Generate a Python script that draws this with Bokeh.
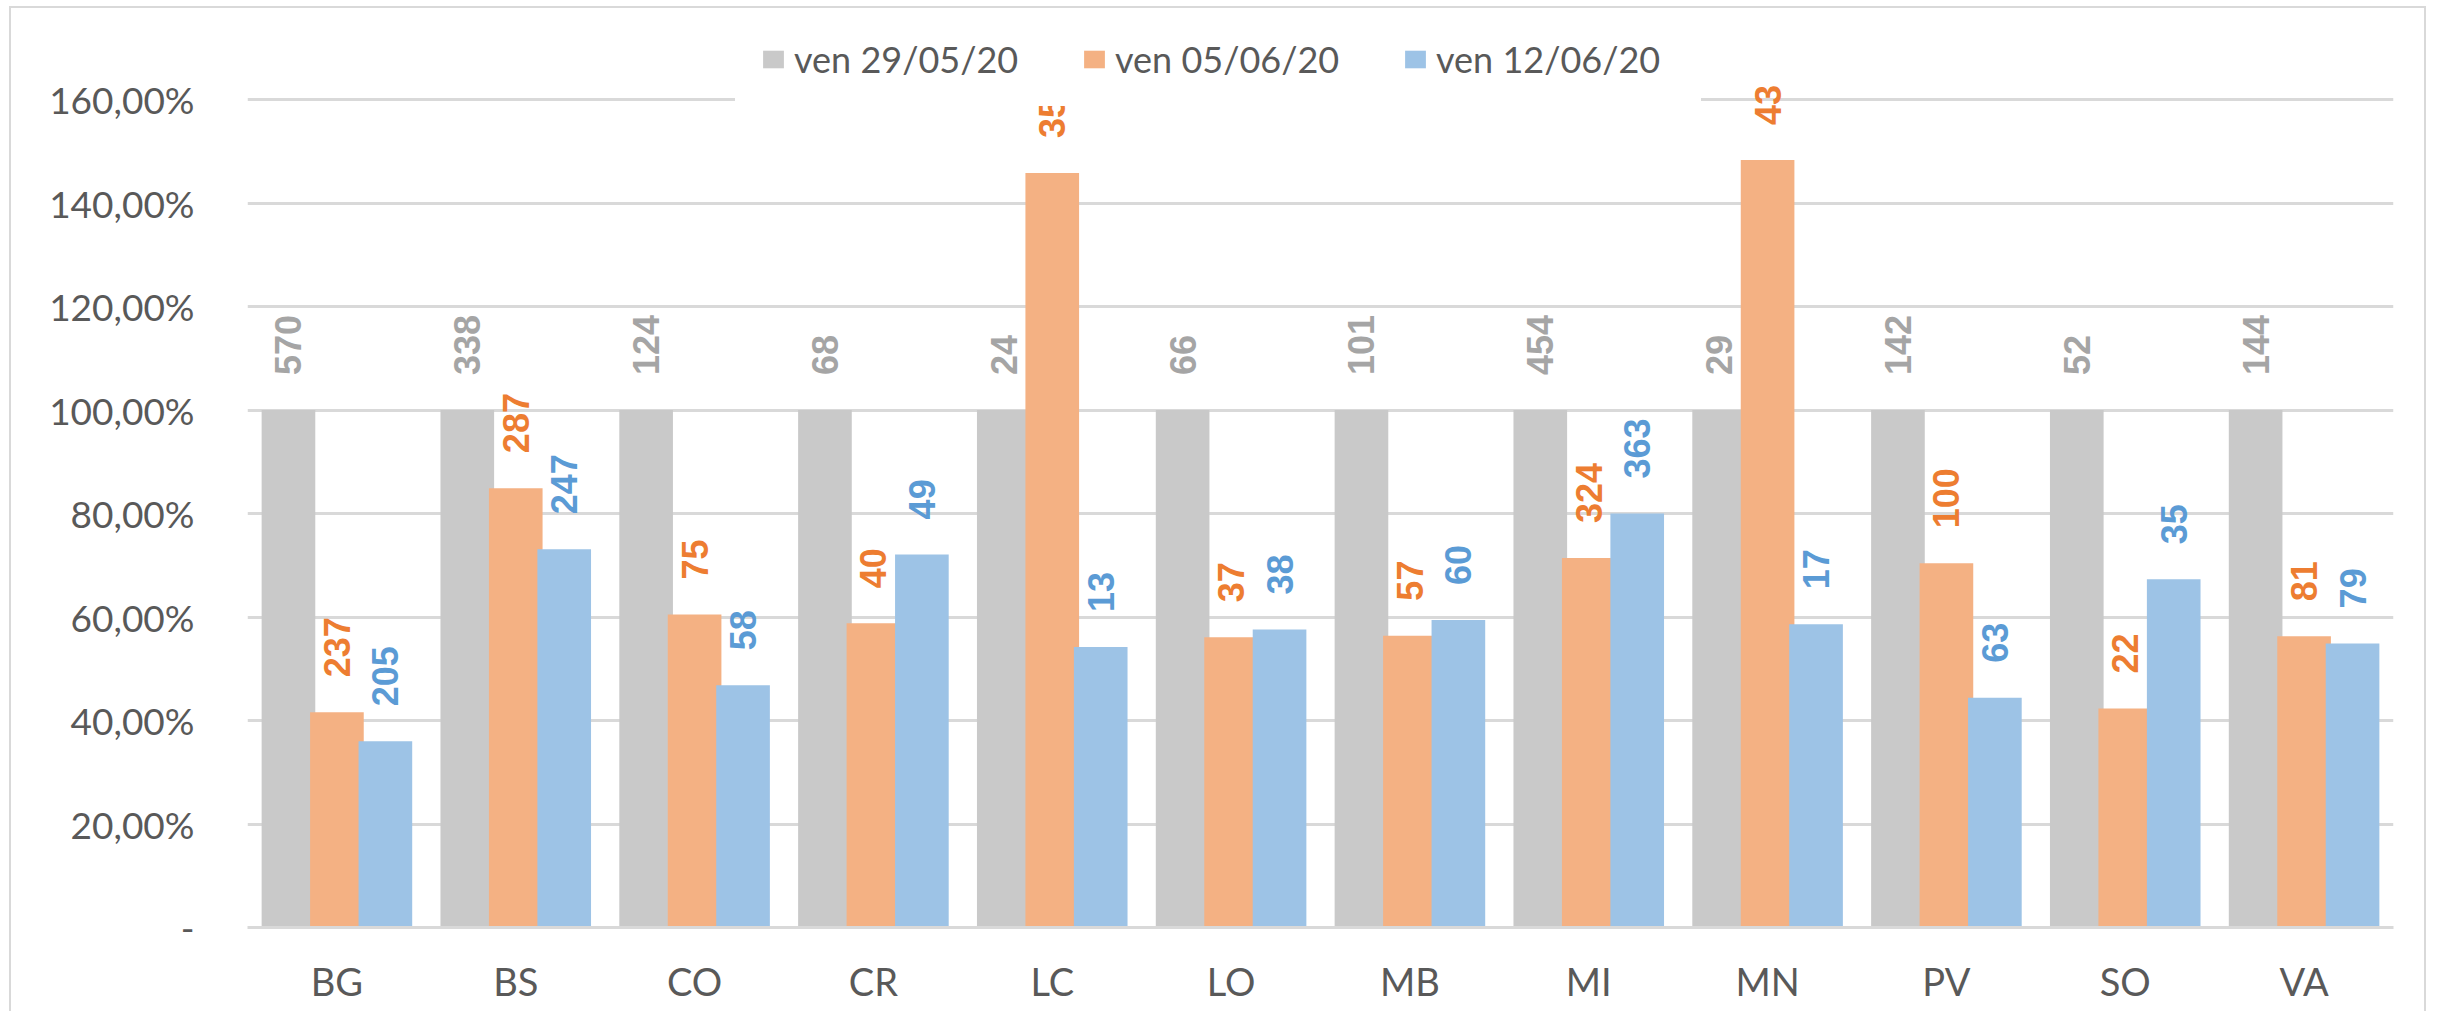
import math
from bokeh.plotting import figure
from bokeh.models import ColumnDataSource, FactorRange, FixedTicker, Spacer
from bokeh.layouts import column, row
from bokeh.transform import dodge
from bokeh.core.properties import value
from bokeh.embed import file_html
from bokeh.resources import INLINE

categories = ["BG", "BS", "CO", "CR", "LC", "LO", "MB", "MI", "MN", "PV", "SO", "VA"]
series_names = ["ven 29/05/20", "ven 05/06/20", "ven 12/06/20"]

pct_2905 = [100, 100, 100, 100, 100, 100, 100, 100, 100, 100, 100, 100]
pct_0506 = [41.6, 84.9, 60.5, 58.8, 145.8, 56.1, 56.4, 71.4, 148.3, 70.4, 42.3, 56.3]
pct_1206 = [36.0, 73.1, 46.8, 72.1, 54.2, 57.6, 59.4, 80.0, 58.6, 44.4, 67.3, 54.9]

lbl_2905 = ["570", "338", "124", "68", "24", "66", "101", "454", "29", "142", "52", "144"]
lbl_0506 = ["237", "287", "75", "40", "35", "37", "57", "324", "43", "100", "22", "81"]
lbl_1206 = ["205", "247", "58", "49", "13", "38", "60", "363", "17", "63", "35", "79"]

y_ticks = [0, 20, 40, 60, 80, 100, 120, 140, 160]
y_tick_labels = ["-", "20,00%", "40,00%", "60,00%", "80,00%", "100,00%", "120,00%", "140,00%", "160,00%"]

bar_colors = ["#c9c9c9", "#f4b183", "#9dc3e6"]
label_colors = ["#a5a5a5", "#ed7d31", "#5b9bd5"]
offsets = [-0.271, 0.0, 0.271]

source = ColumnDataSource(dict(
    cat=categories,
    s0=pct_2905, s1=pct_0506, s2=pct_1206,
    l0=lbl_2905, l1=lbl_0506, l2=lbl_1206,
))

p = figure(
    x_range=FactorRange(*categories),
    y_range=(0, 176.04),
    width=2417, height=1005,
    output_backend="svg", toolbar_location=None,
    min_border_left=238, min_border_right=33, min_border_top=10, min_border_bottom=84,
)
p.border_fill_color = None
p.outline_line_color = None
p.styles = {
    "background-color": "white",
    "box-shadow": "inset 2px 0 0 #d9d9d9, inset -2px 0 0 #d9d9d9, inset 0 2px 0 #d9d9d9",
}

for i in range(3):
    p.vbar(x=dodge("cat", offsets[i], range=p.x_range), top="s%d" % i, width=0.30,
           source=source, fill_color=bar_colors[i], line_color=None,
           legend_label=series_names[i])

for i in range(3):
    p.text(x=dodge("cat", offsets[i], range=p.x_range), y="s%d" % i, text="l%d" % i,
           source=source, angle=math.pi / 2, text_align="left", text_baseline="middle",
           y_offset=-35, text_font=value("Liberation Sans"), text_font_style="bold",
           text_font_size="36px", text_color=label_colors[i])

# axes
p.yaxis.ticker = FixedTicker(ticks=y_ticks)
p.yaxis.major_label_overrides = {t: s for t, s in zip(y_ticks, y_tick_labels)}
p.yaxis.axis_line_color = None
p.yaxis.major_tick_line_color = None
p.yaxis.minor_tick_line_color = None
p.yaxis.major_tick_out = 0
p.yaxis.major_tick_in = 0
p.yaxis.minor_tick_out = 0
p.yaxis.major_label_standoff = 53
p.yaxis.major_label_text_font = "Lato"
p.yaxis.major_label_text_font_size = "37px"
p.yaxis.major_label_text_color = "#595959"

p.xaxis.axis_line_color = "#d9d9d9"
p.xaxis.axis_line_width = 3
p.xaxis.major_tick_line_color = None
p.xaxis.minor_tick_line_color = None
p.xaxis.major_tick_out = 0
p.xaxis.major_tick_in = 0
p.xaxis.major_label_standoff = 30
p.xaxis.major_label_text_font = "Lato"
p.xaxis.major_label_text_font_size = "38px"
p.xaxis.major_label_text_color = "#595959"

p.xgrid.grid_line_color = None
p.ygrid.grid_line_color = "#d9d9d9"
p.ygrid.grid_line_width = 3

# legend (an invisible border so that the padding is applied)
p.legend.orientation = "horizontal"
p.legend.location = (488, 821)
p.legend.padding = 25
p.legend.margin = 0
p.legend.spacing = 47
p.legend.label_width = 240
p.legend.label_standoff = 8
p.legend.glyph_width = 26
p.legend.glyph_height = 22
p.legend.label_text_font = "Lato"
p.legend.label_text_font_size = "36px"
p.legend.label_text_color = "#595959"
p.legend.border_line_color = "white"
p.legend.border_line_alpha = 0.0
p.legend.background_fill_color = "white"
p.legend.background_fill_alpha = 1.0

layout = column(Spacer(height=6), row(Spacer(width=9), p))

open("out.html", "w").write(file_html(layout, INLINE))
